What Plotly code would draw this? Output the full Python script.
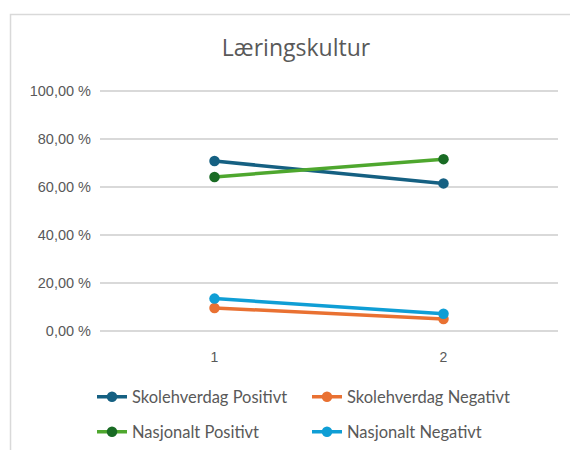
import plotly.graph_objects as go

categories = [1, 2]
skole_pos = [70.8, 61.5]
skole_neg = [9.6, 5.0]
nasj_pos = [64.2, 71.6]
nasj_neg = [13.5, 7.2]
tick_vals = [0, 20, 40, 60, 80, 100]
tick_text = ["0,00 %", "20,00 %", "40,00 %", "60,00 %", "80,00 %", "100,00 %"]

series = [
    ("Skolehverdag Positivt", skole_pos, "#156082", "#156082", "legend"),
    ("Skolehverdag Negativt", skole_neg, "#E97132", "#E97132", "legend"),
    ("Nasjonalt Positivt", nasj_pos, "#4EA72E", "#196B24", "legend2"),
    ("Nasjonalt Negativt", nasj_neg, "#0F9ED5", "#0F9ED5", "legend2"),
]

fig = go.Figure()
for name, vals, lc, mc, lg in series:
    fig.add_trace(go.Scatter(
        x=categories, y=vals, name=name, mode="lines+markers",
        line=dict(color=lc, width=3.5),
        marker=dict(color=mc, size=10.5),
        legend=lg,
    ))

font_txt = "Lato, 'Liberation Sans', sans-serif"
font_ax = "'Liberation Sans', Arial, sans-serif"
grey = "#595959"

# plot area: x 100..558, y 87..335 ; value 0..100 at 331..91
T, B = 87, 335
H = float(B - T)
pad = 4 / 2.4

def py(p):
    return (B - p) / H

def px(p):
    return (p - 100) / 458.0

fig.update_layout(
    width=570, height=450,
    margin=dict(l=100, r=12, t=T, b=450 - B, autoexpand=False),
    paper_bgcolor="white", plot_bgcolor="white",
    title=dict(text="Læringskultur", x=296/570, xanchor="center",
               y=1 - 48/450, yanchor="middle", yref="container",
               font=dict(family="'Open Sans', sans-serif", size=23, color=grey)),
    xaxis=dict(range=[0.5, 2.5], tickvals=categories, ticktext=["1", "2"],
               showgrid=False, zeroline=False, showline=False, ticks="",
               ticklabelstandoff=12,
               tickfont=dict(family=font_ax, size=14, color=grey)),
    yaxis=dict(range=[-pad, 100 + pad], tickvals=tick_vals, ticktext=tick_text,
               showgrid=True, gridcolor="#d9d9d9", gridwidth=1.5,
               zeroline=False, showline=False, ticks="",
               ticklabelstandoff=8,
               tickfont=dict(family=font_ax, size=14.5, color=grey)),
    showlegend=True,
    legend=dict(orientation="h", x=px(92), xanchor="left", y=py(397), yanchor="middle",
                entrywidth=170, entrywidthmode="pixels",
                font=dict(family=font_txt, size=16.5, color=grey), bgcolor="rgba(0,0,0,0)"),
    legend2=dict(orientation="h", x=px(92), xanchor="left", y=py(432), yanchor="middle",
                 entrywidth=170, entrywidthmode="pixels",
                 font=dict(family=font_txt, size=16.5, color=grey), bgcolor="rgba(0,0,0,0)"),
    shapes=[dict(type="path", xref="paper", yref="paper",
                 path=f"M {px(10.5):.4f} {py(460):.4f} L {px(10.5):.4f} {py(14.5):.4f} L {px(580):.4f} {py(14.5):.4f}",
                 line=dict(color="#d9d9d9", width=1.5))],
)

fig.write_html("out.html")
